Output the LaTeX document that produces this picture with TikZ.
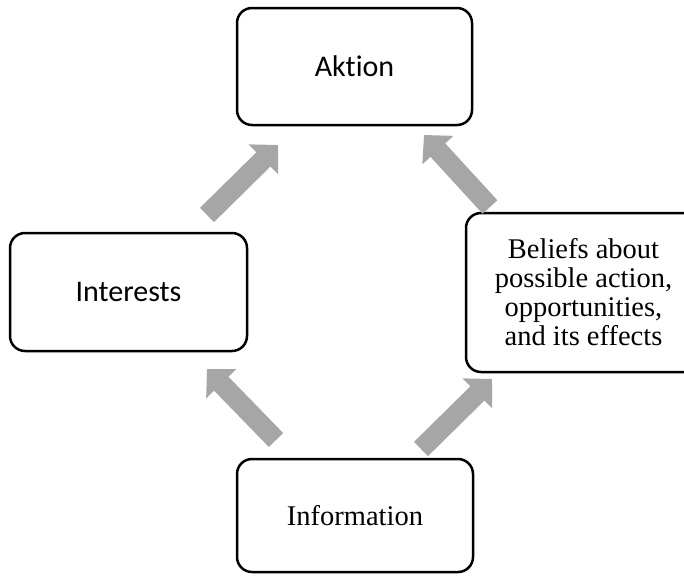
\documentclass[tikz,border=0pt]{standalone}
\usepackage{fontspec}
\setmainfont{Liberation Serif}
\newfontfamily\carlito[Ligatures=NoCommon]{Carlito}
\usetikzlibrary{arrows.meta}
\definecolor{arrowgray}{RGB}{166,166,166}
\tikzset{
  box/.style={draw=black, line width=2.5pt, rounded corners=15pt, fill=white, align=center, inner sep=0pt},
  sanslabel/.style={font=\carlito\fontsize{30}{32}\selectfont},
  seriflabel/.style={font=\fontsize{28.5}{29}\selectfont},
  blockarrow/.style={draw=arrowgray, line width=20pt, line cap=butt,
    -{Triangle[width=41pt,length=20.5pt]}}
}
\begin{document}
\begin{tikzpicture}[x=1pt,y=-1pt]
\useasboundingbox (0,0) rectangle (684,576);
\node[box, sanslabel, minimum width=235pt, minimum height=117pt] (aktion) at (354.5,66.5) {Aktion};
\node[box, sanslabel, minimum width=237pt, minimum height=118pt] (interests) at (128.5,292) {Interests};
\node[box, seriflabel, minimum width=235pt, minimum height=159pt] (beliefs) at (583.5,292.5) {Beliefs about\\possible action,\\opportunities,\\and its effects};
\node[box, seriflabel, minimum width=236pt, minimum height=113pt] (information) at (355,515.5) {Information};
\coordinate (t1) at (207,215); \coordinate (h1) at (278,145);
\coordinate (t2) at (490,207); \coordinate (h2) at (424,135);
\coordinate (t3) at (276,440); \coordinate (h3) at (207,369);
\coordinate (t4) at (421,449); \coordinate (h4) at (492,379);
\draw[blockarrow] (t1) -- (h1);
\draw[blockarrow] (t2) -- (h2);
\draw[blockarrow] (t3) -- (h3);
\draw[blockarrow] (t4) -- (h4);
\end{tikzpicture}
\end{document}
